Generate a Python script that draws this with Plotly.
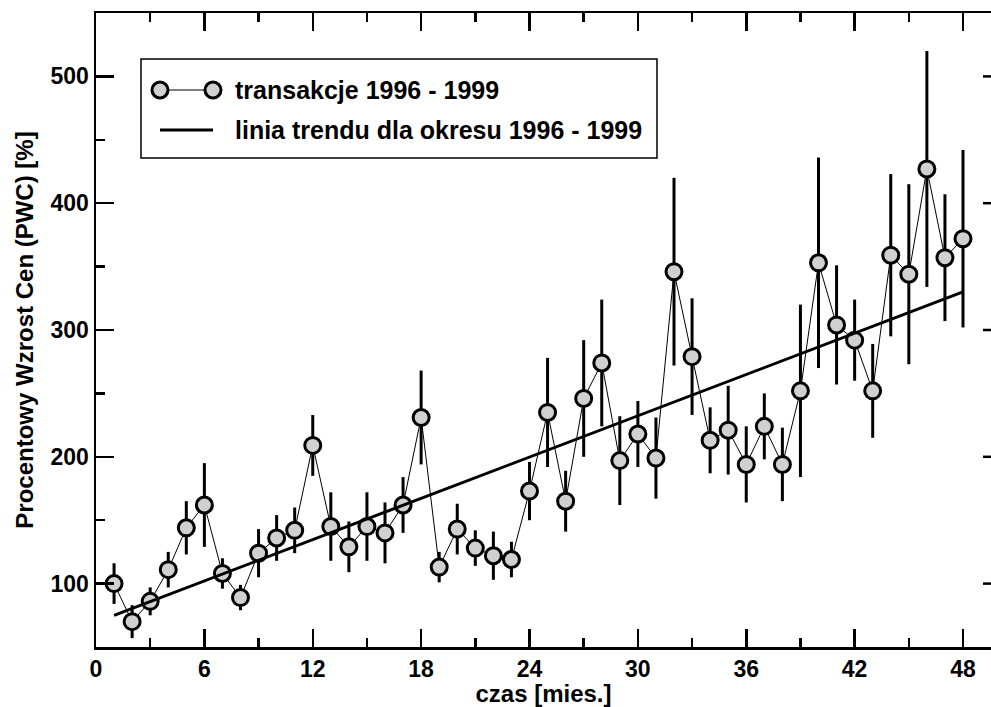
import plotly.graph_objects as go

months = list(range(1, 49))
values = [100, 70, 86, 111, 144, 162, 108, 89, 124, 136, 142, 209,
          145, 129, 145, 140, 162, 231, 113, 143, 128, 122, 119, 173,
          235, 165, 246, 274, 197, 218, 199, 346, 279, 213, 221, 194,
          224, 194, 252, 353, 304, 292, 252, 359, 344, 427, 357, 372]
errors = [16, 13, 11, 14, 21, 33, 12, 10, 19, 18, 18, 24,
          27, 20, 27, 24, 22, 37, 12, 20, 14, 19, 14, 23,
          43, 24, 46, 50, 35, 26, 32, 74, 46, 26, 35, 30,
          26, 29, 68, 83, 47, 32, 37, 64, 71, 93, 50, 70]
trend_x = [1, 48]
trend_y = [75, 330]
x_ticks = [0, 6, 12, 18, 24, 30, 36, 42, 48]
y_ticks = [100, 200, 300, 400, 500]
legend_labels = ["transakcje 1996 - 1999", "linia trendu dla okresu 1996 - 1999"]
x_title = "czas [mies.]"
y_title = "Procentowy Wzrost Cen (PWC) [%]"

FONT = "Liberation Sans"
MFILL = "#d0d0d0"

fig = go.Figure()
fig.add_trace(go.Scatter(
    x=months, y=values, mode="lines+markers",
    line=dict(color="black", width=1),
    marker=dict(size=16, color=MFILL, line=dict(color="black", width=3)),
    error_y=dict(type="data", array=errors, visible=True, color="black",
                 thickness=3, width=0),
    showlegend=False,
))
fig.add_trace(go.Scatter(
    x=trend_x, y=trend_y, mode="lines",
    line=dict(color="black", width=3), showlegend=False,
))

W, H = 991, 707
L, T, B, R = 96, 13, 60, 0
pw, ph = W - L - R, H - T - B

def px(xp):
    return (xp - L) / pw

def py(yp):
    return (H - B - yp) / ph

fig.update_layout(
    width=W, height=H,
    margin=dict(l=L, r=R, t=T, b=B),
    paper_bgcolor="white", plot_bgcolor="white",
    hovermode=False,
    font=dict(family=FONT, color="black", size=23, weight="bold"),
    xaxis=dict(
        range=[0, 49.55], tickvals=x_ticks, ticks="inside", ticklen=18,
        tickwidth=2.5, tickcolor="black", showline=True, linewidth=2.5,
        linecolor="black", mirror="allticks", showgrid=False, zeroline=False,
        tickfont=dict(family=FONT, size=23, weight="bold"),
        minor=dict(dtick=3, tick0=0, ticks="inside", ticklen=9, tickwidth=2.5,
                   tickcolor="black", showgrid=False),
        title=dict(text=x_title, standoff=2,
                   font=dict(family=FONT, size=24, weight="bold")),
    ),
    yaxis=dict(
        range=[50, 550], tickvals=y_ticks, ticks="inside", ticklen=18,
        tickwidth=2.5, tickcolor="black", showline=True, linewidth=2.5,
        linecolor="black", mirror=False, showgrid=False, zeroline=False,
        tickfont=dict(family=FONT, size=23, weight="bold"),
        minor=dict(dtick=50, tick0=50, ticks="inside", ticklen=9, tickwidth=2.5,
                   tickcolor="black", showgrid=False),
        title=dict(text=y_title, standoff=10,
                   font=dict(family=FONT, size=24, weight="bold")),
    ),
)

shapes = []
# right-side ticks (the right frame itself lies just beyond the picture)
for tv in y_ticks:
    shapes.append(dict(type="line", xref="paper", yref="y",
                       x0=1 - 8 / pw, x1=1, y0=tv, y1=tv,
                       line=dict(color="black", width=2.5)))

# custom legend box
shapes.append(dict(type="rect", xref="paper", yref="paper",
                   x0=px(141), x1=px(657), y0=py(158), y1=py(59),
                   line=dict(color="black", width=1.5), fillcolor="white",
                   layer="above"))
row1, row2 = 90, 130
shapes.append(dict(type="line", xref="paper", yref="paper",
                   x0=px(160), x1=px(213), y0=py(row1), y1=py(row1),
                   line=dict(color="black", width=1), layer="above"))
for cx in (160, 213):
    shapes.append(dict(type="circle", xref="paper", yref="paper",
                       xsizemode="pixel", ysizemode="pixel",
                       xanchor=px(cx), yanchor=py(row1),
                       x0=-8, x1=8, y0=-8, y1=8,
                       line=dict(color="black", width=3), fillcolor=MFILL,
                       layer="above"))
shapes.append(dict(type="line", xref="paper", yref="paper",
                   x0=px(160), x1=px(213), y0=py(row2), y1=py(row2),
                   line=dict(color="black", width=3), layer="above"))
fig.update_layout(shapes=shapes)

for lab, ry in zip(legend_labels, (row1, row2)):
    fig.add_annotation(xref="paper", yref="paper", x=px(233), y=py(ry),
                       text=lab, showarrow=False, xanchor="left",
                       yanchor="middle",
                       font=dict(family=FONT, size=25, weight="bold"))

fig.write_html(
    "out.html",
    config=dict(displayModeBar=False, staticPlot=True),
    post_script=(
        "document.documentElement.style.overflow='hidden';"
        "document.documentElement.style.margin='0';"
        "document.body.style.margin='0';"
        "document.body.style.overflow='hidden';"
    ),
)
